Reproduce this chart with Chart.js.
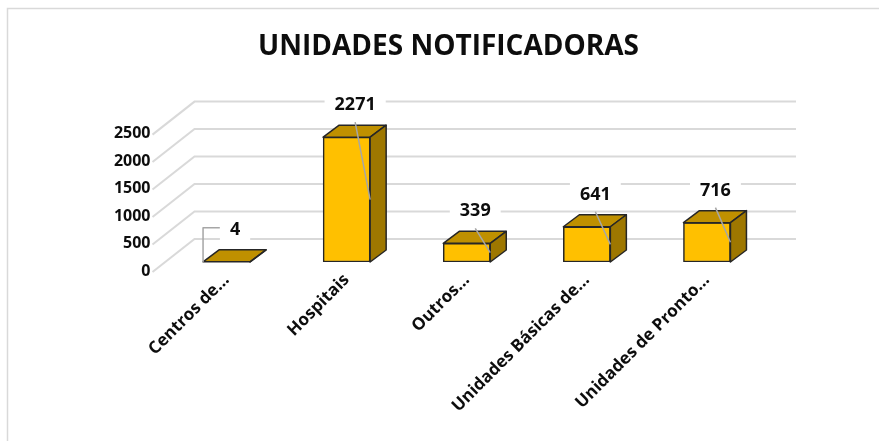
<!DOCTYPE html>
<html>
<head>
<meta charset="utf-8">
<script src="https://cdn.jsdelivr.net/npm/chart.js@4.4.0/dist/chart.umd.min.js"></script>
<style>
  html, body { margin: 0; padding: 0; background: #fff; }
  canvas { display: block; }
</style>
</head>
<body>
<canvas id="unidadesChart" width="879" height="441"></canvas>
<script>
const categorias = ["Centros de…", "Hospitais", "Outros…", "Unidades Básicas de…", "Unidades de Pronto…"];
const notificacoes = [4, 2271, 339, 641, 716];
const ticksY = [0, 500, 1000, 1500, 2000, 2500];

const FONTE = "'Open Sans', sans-serif";
const PROF_X = 16, PROF_Y = -12; // profundidade das barras 3D

function poligono(ctx, pts, cor) {
  ctx.beginPath();
  ctx.moveTo(pts[0][0], pts[0][1]);
  for (let i = 1; i < pts.length; i++) ctx.lineTo(pts[i][0], pts[i][1]);
  ctx.closePath();
  ctx.fillStyle = cor;
  ctx.fill();
  ctx.stroke();
}

// moldura e grade em perspectiva
const fundo = {
  id: "fundo",
  beforeDraw(chart) {
    const ctx = chart.ctx;
    ctx.save();
    ctx.fillStyle = "#fff";
    ctx.fillRect(0, 0, chart.width, chart.height);
    ctx.strokeStyle = "#d9d9d9";
    ctx.lineWidth = 1.5;
    ctx.beginPath();
    ctx.moveTo(7.5, chart.height);
    ctx.lineTo(7.5, 8.5);
    ctx.lineTo(chart.width, 8.5);
    ctx.stroke();
    ctx.restore();
  },
  beforeDatasetsDraw(chart) {
    const { ctx, chartArea, scales } = chart;
    ctx.save();
    ctx.strokeStyle = "#d9d9d9";
    ctx.lineWidth = 2;
    ticksY.forEach(v => {
      const y = scales.y.getPixelForValue(v);
      ctx.beginPath();
      ctx.moveTo(chartArea.left - 14, y + 10);
      ctx.lineTo(chartArea.left + 28, y - 23);
      ctx.lineTo(chartArea.right + 29, y - 23);
      ctx.stroke();
    });
    ctx.restore();
  }
};

// topo, lateral e rótulos das barras
const barras3D = {
  id: "barras3D",
  afterDatasetsDraw(chart) {
    const ctx = chart.ctx;
    const meta = chart.getDatasetMeta(0);
    ctx.save();
    ctx.lineJoin = "round";
    ctx.strokeStyle = "#262626";
    ctx.lineWidth = 1.5;
    const caixas = [];
    meta.data.forEach((bar, i) => {
      const { x, y, base, width } = bar.getProps(["x", "y", "base", "width"], true);
      const xl = x - width / 2, xr = x + width / 2;
      poligono(ctx, [[xl, y], [xr, y], [xr + PROF_X, y + PROF_Y], [xl + PROF_X, y + PROF_Y]], "#bf9000");
      poligono(ctx, [[xr, y], [xr + PROF_X, y + PROF_Y], [xr + PROF_X, base + PROF_Y], [xr, base]], "#9e7700");
      caixas.push({ xl, xr, y, base, texto: String(notificacoes[i]) });
    });

    ctx.font = "bold 18px " + FONTE;
    ctx.textAlign = "center";
    ctx.textBaseline = "middle";
    caixas.forEach(c => {
      const cx = c.xr - 15, cy = c.y - 32;
      const w = ctx.measureText(c.texto).width;
      const esq = cx - w / 2 - 10;
      ctx.strokeStyle = "#a6a6a6";
      ctx.lineWidth = 1.5;
      ctx.beginPath();
      if (c.base - c.y > 4) {
        ctx.moveTo(cx, cy + 17);
        ctx.lineTo(c.xr, (c.y + c.base) / 2);
      } else {
        ctx.moveTo(c.xl, c.base);
        ctx.lineTo(c.xl, cy - 2);
        ctx.lineTo(esq, cy - 2);
      }
      ctx.stroke();
      ctx.fillStyle = "#fff";
      ctx.fillRect(esq, cy - 16, w + 20, 29);
      ctx.fillStyle = "#0d0d0d";
      ctx.fillText(c.texto, cx, cy);
    });
    ctx.restore();
  }
};

new Chart(document.getElementById("unidadesChart"), {
  type: "bar",
  data: {
    labels: categorias,
    datasets: [{
      data: notificacoes,
      backgroundColor: "#ffc000",
      borderColor: "#262626",
      borderWidth: 1.5,
      borderSkipped: false,
      barThickness: 47
    }]
  },
  options: {
    responsive: false,
    animation: false,
    layout: { padding: { left: 18, right: 0, top: 0, bottom: 0 } },
    plugins: {
      legend: { display: false },
      tooltip: { enabled: false },
      title: {
        display: true,
        text: "UNIDADES NOTIFICADORAS",
        color: "#0d0d0d",
        font: { family: FONTE, size: 28, weight: "bold" },
        padding: { top: 30, bottom: 61 }
      }
    },
    scales: {
      x: {
        grid: { display: false, drawTicks: false },
        border: { display: false },
        ticks: {
          color: "#0d0d0d",
          font: { family: FONTE, size: 17, weight: "bold" },
          minRotation: 45,
          maxRotation: 45,
          autoSkip: false,
          padding: 8
        },
        afterFit(axis) { axis.height = 179; }
      },
      y: {
        min: 0,
        max: 2500,
        grid: { display: false, drawTicks: false },
        border: { display: false },
        ticks: {
          stepSize: 500,
          color: "#0d0d0d",
          font: { family: FONTE, size: 16, weight: "bold" },
          padding: 16,
          labelOffset: 9,
          callback: v => String(v)
        },
        afterFit(axis) { axis.width = 148.5; }
      },
      // eixo vazio à direita, só para reservar a margem do fundo 3D
      margemDireita: {
        position: "right",
        grid: { display: false, drawTicks: false },
        border: { display: false },
        ticks: { display: false },
        afterFit(axis) { axis.width = 112; }
      }
    }
  },
  plugins: [fundo, barras3D]
});
</script>
</body>
</html>
